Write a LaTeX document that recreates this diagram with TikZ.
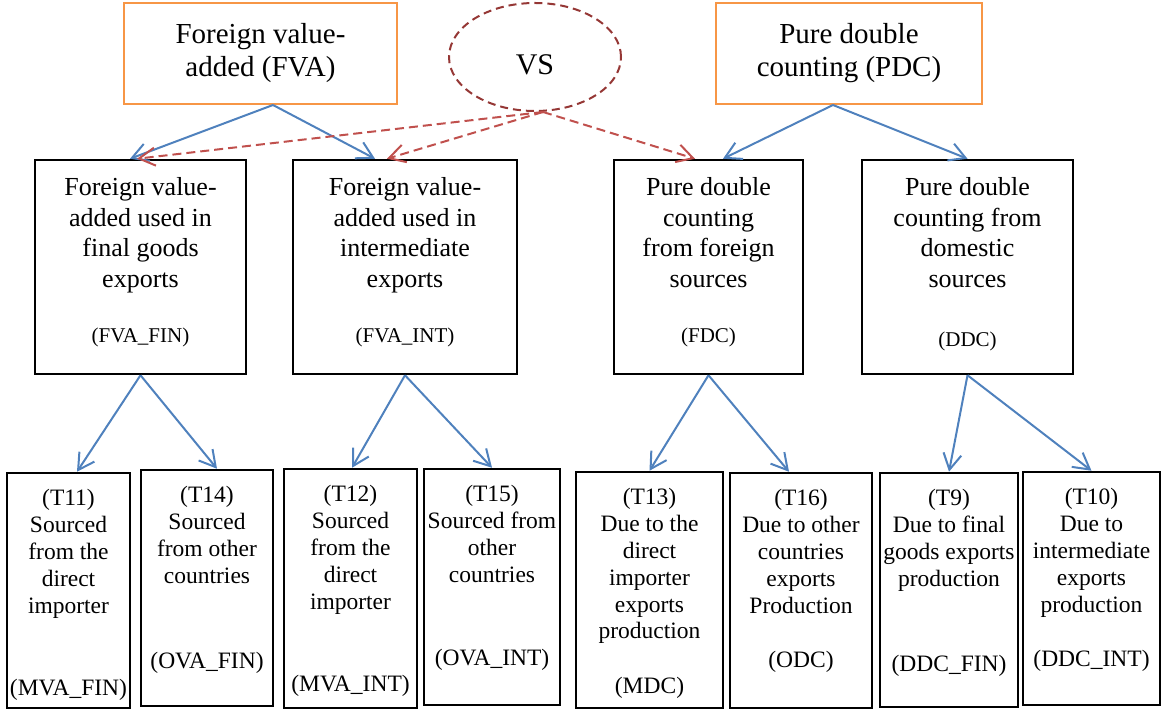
\documentclass[tikz,border=0pt]{standalone}
\usepackage{fontspec}
\setmainfont{Liberation Serif}
\usepackage{tikz}
\usetikzlibrary{arrows.meta, shapes.geometric, positioning}
\definecolor{frameorange}{HTML}{F79646}
\definecolor{linkblue}{HTML}{4F81BD}
\definecolor{vsred}{HTML}{C0504D}
\definecolor{vsdark}{HTML}{953735}
\newcommand{\cellbox}[4]{\parbox[c][#2][t]{#1}{\centering\rule{0pt}{#3}#4}}
\newcommand{\smallcode}[1]{{\fontsize{10.5}{12}\selectfont #1}}
\tikzset{
  headbox/.style  = {draw=frameorange, line width=1pt, align=center, inner sep=0pt,
                     minimum height=50.5pt, font=\fontsize{14.5}{16.5}\selectfont},
  sharebox/.style = {draw, line width=1.25pt, inner sep=0pt,
                     font=\fontsize{13}{15.25}\selectfont},
  termbox/.style  = {draw, line width=1.25pt, inner sep=0pt,
                     font=\fontsize{11.75}{13.4}\selectfont},
  vsnode/.style   = {ellipse, draw=vsdark, line width=1pt, dash pattern=on 4pt off 2.5pt,
                     minimum width=86pt, minimum height=54pt, inner sep=0pt,
                     font=\fontsize{15}{18}\selectfont},
  flow/.style     = {-{Straight Barb[length=8pt, width=9pt]}, line width=1pt, draw=linkblue},
  vs flow/.style  = {flow, draw=vsred, dash pattern=on 4.5pt off 2.5pt},
}

\begin{document}
\begin{tikzpicture}[x=0.5pt, y=-0.5pt]
    \useasboundingbox (0,0) rectangle (1162,710);

    \node[headbox, minimum width=136.5pt] (fva) at (260.5,53.5) {Foreign value-\\added (FVA)};
    \node[vsnode] (vs) at (535,57) {\raisebox{-9pt}[0pt][0pt]{VS}};
    \node[headbox, minimum width=133pt] (pdc) at (849,53.5) {Pure double\\counting (PDC)};

    \node[sharebox] (fin) at (140.5,267)
      {\cellbox{105.5pt}{107pt}{18pt}{Foreign value-\\added used in\\final goods\\exports\\[12.5pt]\smallcode{(FVA\_FIN)}}};
    \node[sharebox] (int) at (405,267)
      {\cellbox{112pt}{107pt}{18pt}{Foreign value-\\added used in\\intermediate\\exports\\[12.5pt]\smallcode{(FVA\_INT)}}};
    \node[sharebox] (fdc) at (708.5,267)
      {\cellbox{94.5pt}{107pt}{18pt}{Pure double\\counting\\from foreign\\sources\\[12.5pt]\smallcode{(FDC)}}};
    \node[sharebox] (ddc) at (967.5,267)
      {\cellbox{105.5pt}{107pt}{18pt}{Pure double\\counting from\\domestic\\sources\\[14.5pt]\smallcode{(DDC)}}};

    \node[termbox] (t11) at (68.5,590.5)
      {\cellbox{61.5pt}{117.5pt}{16.5pt}{(T11)\\Sourced\\from the\\direct\\importer\\[28pt](MVA\_FIN)}};
    \node[termbox] (t14) at (207,588)
      {\cellbox{66pt}{118pt}{16.5pt}{(T14)\\Sourced\\from other\\countries\\[29pt](OVA\_FIN)}};
    \node[termbox] (t12) at (350.5,588.5)
      {\cellbox{66.5pt}{119.5pt}{16.5pt}{(T12)\\Sourced\\from the\\direct\\importer\\[28pt](MVA\_INT)}};
    \node[termbox] (t15) at (492,587)
      {\cellbox{68pt}{118pt}{16.5pt}{(T15)\\Sourced from\\other\\countries\\[28pt](OVA\_INT)}};
    \node[termbox] (t13) at (649.5,590)
      {\cellbox{73.5pt}{118pt}{16.5pt}{(T13)\\Due to the\\direct\\importer\\exports\\production\\[14pt](MDC)}};
    \node[termbox] (t16) at (801,590.5)
      {\cellbox{71pt}{117.5pt}{16.5pt}{(T16)\\Due to other\\countries\\exports\\Production\\[14pt](ODC)}};
    \node[termbox] (t9) at (949,590)
      {\cellbox{69pt}{117pt}{16.5pt}{(T9)\\Due to final\\goods exports\\production\\[29pt](DDC\_FIN)}};
    \node[termbox] (t10) at (1091.5,588.5)
      {\cellbox{68.5pt}{116.5pt}{16.5pt}{(T10)\\Due to\\intermediate\\exports\\production\\[14pt](DDC\_INT)}};

    \draw[flow] ([xshift=6.25pt]fva.south) -- ([xshift=-5.25pt]fin.north);
    \draw[flow] ([xshift=6.25pt]fva.south) -- ([xshift=-15pt]int.north);
    \draw[flow] ([xshift=-8pt]pdc.south) -- ([xshift=7.25pt]fdc.north);
    \draw[flow] ([xshift=-8pt]pdc.south) -- (ddc.north);

    \draw[flow] (fin.south) -- ([xshift=4.25pt]t11.north);
    \draw[flow] (fin.south) -- ([xshift=5pt]t14.north);
    \draw[flow] (int.south) -- ([xshift=0.75pt]t12.north);
    \draw[flow] (int.south) -- (t15.north);
    \draw[flow] (fdc.south) -- (t13.north);
    \draw[flow] (fdc.south) -- ([xshift=-6pt]t16.north);
    \draw[flow] (ddc.south) -- (t9.north);
    \draw[flow] (ddc.south) -- (t10.north);

    \draw[vs flow] ([xshift=4pt]vs.south) -- ([xshift=-1.75pt]fin.north);
    \draw[vs flow] ([xshift=4pt]vs.south) -- ([xshift=-9pt]int.north);
    \draw[vs flow] ([xshift=4pt]vs.south) -- ([xshift=-6.75pt]fdc.north);
\end{tikzpicture}
\end{document}
